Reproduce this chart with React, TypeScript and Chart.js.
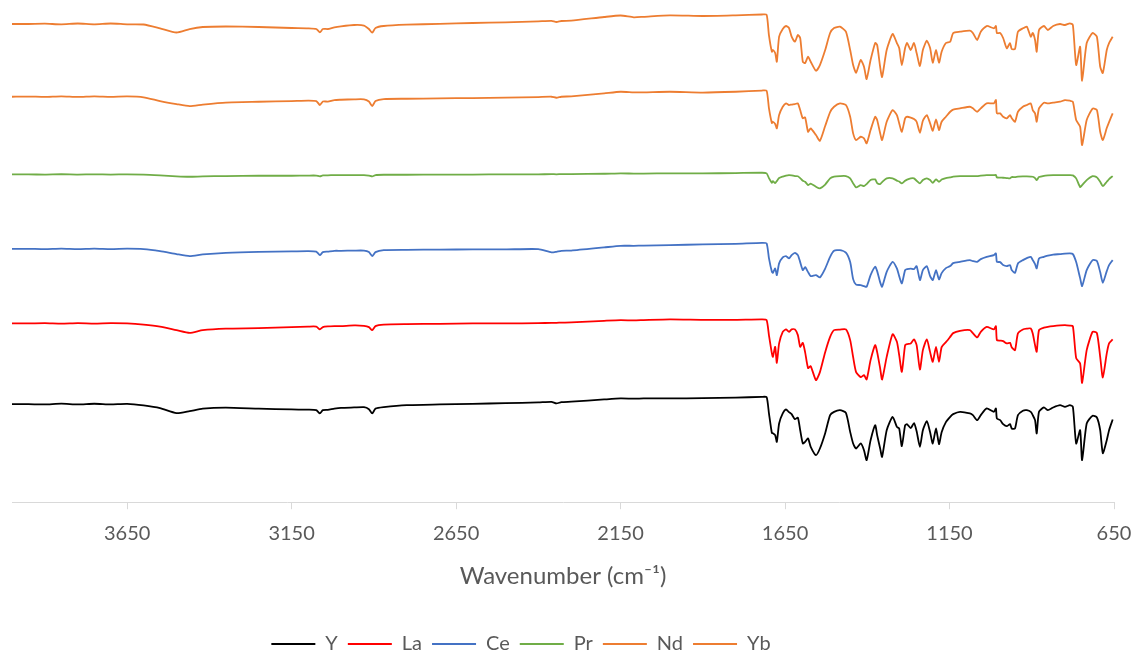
import { useEffect, useRef } from 'react';
import { Chart, registerables } from 'chart.js';

Chart.register(...registerables);

// Wavenumbers (cm-1), shared by all spectra
const wavenumbers = [
  4000, 3950, 3900, 3850, 3800, 3750, 3700, 3650, 3600, 3550,
  3500, 3460, 3420, 3350, 3250, 3150, 3100, 3075, 3064, 3055,
  3040, 3020, 3000, 2960, 2930, 2915, 2905, 2895, 2870, 2800,
  2700, 2600, 2500, 2400, 2360, 2345, 2330, 2300, 2200, 2150,
  2110, 2080, 2000, 1900, 1800, 1720, 1706,
  1699, 1690, 1687, 1680, 1675, 1668, 1657, 1647, 1638, 1630,
  1620, 1611, 1604, 1596, 1589, 1580, 1572, 1556, 1544, 1528,
  1513, 1501, 1483, 1465, 1452, 1443, 1434, 1420, 1410, 1402,
  1390, 1376, 1370, 1361, 1355, 1341, 1323, 1310, 1303, 1295,
  1285, 1279, 1268, 1258, 1250, 1240, 1231, 1219, 1209, 1201,
  1191, 1182, 1174, 1161, 1148, 1139, 1118, 1088, 1079, 1066,
  1055, 1037, 1015, 1009, 1006, 996, 987, 976, 966, 961,
  951, 942, 927, 915, 903, 897, 890, 885, 878, 863,
  851, 835, 814, 799, 784, 775, 765, 753, 747, 733,
  715, 702, 692, 684, 672, 665, 654,
];

// Offset transmittance (arbitrary units)
const seriesY = [
  98, 98, 97.7, 98.5, 97.7, 98.4, 97.8, 98.3, 96.7, 94,
  89, 91, 93.5, 94.5, 93.5, 92.7, 92.5, 92, 88.7, 92,
  92.3, 93.5, 94.3, 94.7, 95, 93, 88.7, 93.5, 95, 97,
  97.7, 98.3, 99, 99.7, 100.3, 98.7, 100, 100.5, 102.7, 103.7,
  103.5, 103.7, 103.7, 104, 104.5, 105.3, 105,
  89, 69, 69, 67, 60.3, 78.7, 88.7, 92.7, 90, 88,
  83, 84.5, 72, 58.7, 60.3, 63.7, 55.3, 47, 53.7, 69,
  87, 90.3, 92, 89.3, 70.3, 58.7, 53.7, 58.7, 52, 42,
  62, 77, 67, 54, 45.3, 72, 85.3, 75.3, 73.7, 56,
  77, 78, 74, 79, 71, 55.3, 72, 81, 70, 58.7,
  73.7, 58, 70, 80, 85.3, 88, 90.3, 88.7, 87, 82,
  87, 93.7, 90.3, 93.7, 83.7, 82, 78, 76, 78, 73.7,
  73.7, 87, 91.5, 92, 90.3, 87, 82, 68.7, 90.3, 94.7,
  92, 94.7, 97, 95.3, 97, 95.3, 58.7, 72, 42, 78.7,
  86.5, 84.7, 72, 49, 62, 72, 82.7,
];

const seriesLa = [
  178.7, 178.7, 179, 178.5, 179, 178.6, 179, 178.7, 177.5, 175.5,
  172, 169.3, 172, 173.5, 174, 175, 175.5, 175.5, 172.7, 175,
  175.7, 176, 176, 176.7, 176.3, 175, 172, 176, 177.5, 178,
  178.3, 178.7, 178.7, 179, 179.3, 179.3, 179.5, 179.7, 181.3, 182,
  181.7, 182, 182.7, 182.3, 182.3, 182.7, 182,
  167, 148.7, 145.3, 155.3, 139.3, 158.7, 170.3, 172.7, 170.3, 172.7,
  172.7, 167, 155.3, 159.3, 150, 134, 136, 122, 130, 150,
  165.3, 172, 172.5, 172.7, 162, 145, 130, 125, 127, 122.7,
  142, 157, 150, 134, 122.7, 145.3, 168, 160.3, 147, 130.3,
  157, 158, 158.7, 162.7, 157, 132.7, 152, 162.7, 150, 140.3,
  155.3, 140.3, 155, 160, 165.3, 169, 171.3, 172, 169, 164.7,
  170.3, 175.3, 172.7, 176, 162, 161.5, 161, 158.7, 159.3, 155,
  152, 168.7, 172.7, 173.5, 173.7, 168.7, 157, 150.3, 172, 174.5,
  175.3, 176, 176.7, 177, 176.5, 176, 144, 138.7, 119.3, 152,
  170.3, 169, 145.3, 124.7, 148.7, 158.7, 162.7,
];

const seriesCe = [
  253.3, 253.3, 253, 253.5, 253, 253.5, 253, 253.4, 253, 251,
  248, 246, 247.7, 249.3, 250.3, 250.7, 251, 250.5, 247, 250,
  250.5, 251.3, 251.3, 251.5, 251.5, 250, 246, 250, 252, 252.3,
  252.5, 252.7, 252.7, 253, 249.7, 250.3, 251.3, 251.5, 254.7, 256.3,
  256.3, 256.5, 257, 257.7, 258.3, 259.3, 258.7,
  244, 230.3, 229.3, 233.7, 227, 238.7, 244.7, 246, 243.7, 247,
  249.3, 247, 240, 232, 235, 230, 226, 227, 224.7, 233.5,
  245.3, 251.3, 252, 249.5, 240, 223, 217.5, 217, 216, 215.3,
  227, 235.3, 231, 220, 215.3, 230.3, 240.3, 233.7, 226, 218.7,
  232, 233, 233.5, 233, 236, 222, 232, 236, 226, 222,
  232, 222.7, 229, 234, 236, 239, 240.3, 242, 241, 240.3,
  243, 245.3, 247, 248.7, 240.3, 240, 237, 236, 237, 232,
  229.3, 238.7, 242, 244, 245.3, 242, 238, 233.7, 243.7, 245.3,
  246.5, 247.5, 248, 248.5, 248.7, 248, 240, 224, 216, 232,
  242, 241, 230, 219.3, 231, 237, 242,
];

const seriesPr = [
  327.7, 327.7, 327.5, 327.8, 327.5, 327.7, 327.5, 327.7, 327.5, 326.7,
  325.7, 325.3, 325.7, 326, 326.3, 326.3, 326.5, 326.5, 325.7, 326.7,
  326.7, 327, 327, 327, 327, 326.5, 325.7, 327, 327.3, 327.3,
  327.5, 327.5, 327.7, 327.7, 328, 327.7, 328, 328, 328.3, 328.7,
  328.5, 328.5, 328.7, 328.7, 329, 329.3, 328.7,
  324, 319.3, 321, 319, 321, 324, 325.5, 326.5, 327, 326.7,
  326, 325.8, 324, 321.3, 320.3, 317, 318.5, 315.3, 313.7, 317.5,
  323.7, 325.5, 326, 326, 323.7, 318.7, 314.7, 317, 316, 318,
  322, 322.7, 319, 318, 320, 323.7, 323.7, 321.5, 320.5, 318.7,
  321.3, 322.5, 323.7, 323.7, 321.3, 318.7, 322, 323.7, 322, 319.3,
  322.7, 320.3, 322.5, 324, 324.7, 325.5, 326, 326, 326, 326,
  326.5, 327, 327, 327, 324.7, 324.5, 324.3, 324, 323.7, 325,
  325, 325.5, 325.7, 325.7, 325.5, 325.3, 324, 322, 325, 326.3,
  326.7, 327, 327, 327, 327, 326.7, 323.7, 315, 317, 322,
  326, 324.7, 320.3, 316, 320.3, 323, 326,
];

const seriesNd = [
  405.3, 405.5, 405.1, 405.7, 405.1, 405.7, 405.2, 405.6, 404.7, 401,
  398, 396, 397.5, 399.5, 400.3, 401, 401.5, 401, 397, 400.5,
  400.5, 402, 402.3, 402.7, 402.7, 400.5, 396, 401, 403, 403.3,
  403.7, 404, 404.5, 405, 405.3, 404.3, 405.3, 405.7, 408.7, 410.3,
  409.7, 409.7, 410.3, 409.5, 410.3, 411.5, 411.3,
  394, 379, 380.3, 378, 373.7, 387, 395.3, 398.7, 397, 397.5,
  398, 398.7, 392, 383.7, 384.7, 370.3, 373.7, 367, 361.3, 376,
  390, 395.3, 398.7, 397, 385.3, 368.7, 362, 365.3, 363.7, 358.7,
  372, 385.3, 382, 369, 362, 380.3, 392, 387, 378.7, 370.3,
  383.7, 385.3, 384.5, 383, 380.3, 369.3, 381.3, 387, 378.7, 371.3,
  382.7, 372, 380.3, 385.3, 390.3, 392.5, 393.7, 395.3, 393.7, 390.3,
  393.7, 398.7, 398.7, 402, 388.7, 388.7, 385.3, 383.7, 387, 384,
  380.3, 390.3, 395.3, 397, 398.7, 392, 388.7, 380.3, 393.7, 399.3,
  398.7, 399.5, 400.3, 402, 401.3, 400.3, 382, 375.3, 357, 382,
  393.5, 392, 370.3, 362, 374, 380, 388.7,
];

const seriesYb = [
  478, 478, 478.3, 477.7, 478.5, 477.7, 478.5, 477.7, 477.5, 473.7,
  469.5, 473, 475, 475.5, 475, 474, 473.7, 473, 469.7, 473,
  473, 474.7, 475.7, 477, 476.5, 473, 469.3, 474, 476, 477.3,
  478.2, 479, 479.7, 480.7, 481.2, 480, 481, 481.3, 485, 486.5,
  484.7, 485.2, 486.7, 486, 486.7, 487.5, 487.3,
  467, 450.3, 452, 449, 440.3, 465.3, 473, 476, 474, 465.3,
  460.3, 467, 464, 440.3, 439, 445.3, 440.3, 431.3, 437, 452,
  469, 474, 475.3, 470.3, 452, 437, 429.3, 442, 435.3, 423,
  442, 459, 457, 435.3, 425, 452, 468, 459, 454, 437,
  454, 459, 452, 459, 449, 436, 452, 461.3, 454, 439.3,
  452, 439.3, 450.3, 459, 460.3, 469, 470.3, 471.3, 469, 462,
  470.3, 476, 473.7, 476, 469, 469, 464, 453.7, 459, 453,
  453, 470.3, 473.7, 475.3, 465.3, 469, 462, 450.3, 472, 476,
  472, 476, 478, 477, 478.7, 477, 437, 455.3, 421.3, 459,
  469, 465.3, 435.3, 429, 452, 459, 465.3,
];

const seriesNames = ['Y', 'La', 'Ce', 'Pr', 'Nd', 'Yb'];
const seriesColors = ['#000000', '#FF0000', '#4472C4', '#70AD47', '#ED7D31', '#ED7D31'];
const tickValues = [3650, 3150, 2650, 2150, 1650, 1150, 650];

// Shift the legend block sideways (the source legend sits left of centre)
const legendShift = {
  id: 'legendShift',
  afterLayout(chart: any) {
    const lg = chart.legend;
    if (lg) {
      lg.left -= 42;
      lg.right -= 42;
    }
  },
};

export default function App() {
  const ref = useRef<HTMLCanvasElement>(null);

  useEffect(() => {
    const values = [seriesY, seriesLa, seriesCe, seriesPr, seriesNd, seriesYb];
    const chart = new Chart(ref.current as HTMLCanvasElement, {
      type: 'line',
      data: {
        datasets: seriesNames.map((name, k) => ({
          label: name,
          data: wavenumbers.map((w, i) => ({ x: w, y: values[k][i] })),
          borderColor: seriesColors[k],
          backgroundColor: seriesColors[k],
          borderWidth: 1.8,
          pointRadius: 0,
          tension: 0.2,
          fill: false,
        })),
      },
      plugins: [legendShift],
      options: {
        animation: false,
        responsive: true,
        maintainAspectRatio: false,
        layout: { padding: { left: 12, right: 23, top: 2, bottom: 1 } },
        plugins: {
          legend: {
            position: 'bottom',
            labels: {
              usePointStyle: true,
              pointStyle: 'line',
              pointStyleWidth: 44,
              font: { family: 'Lato', size: 20 },
              color: '#595959',
              padding: 10,
            },
          },
          tooltip: { enabled: false },
        },
        scales: {
          x: {
            type: 'linear',
            reverse: true,
            min: 650,
            max: 4000,
            afterBuildTicks: (s: any) => {
              s.ticks = tickValues.map((v) => ({ value: v }));
            },
            ticks: {
              font: { family: 'Lato', size: 20, lineHeight: 2.4 },
              color: '#595959',
              padding: 0,
              maxRotation: 0,
              autoSkip: false,
              callback: (v: any) => String(v),
            },
            grid: { drawOnChartArea: false, drawTicks: true, tickLength: 7, color: '#D9D9D9' },
            border: { display: true, color: '#D9D9D9' },
            title: {
              display: true,
              text: 'Wavenumber (cm⁻¹)',
              font: { family: 'Lato', size: 24 },
              color: '#595959',
              padding: { top: 5, bottom: 33 },
            },
          },
          y: { display: false, min: 0, max: 500 },
        },
      },
    });
    return () => chart.destroy();
  }, []);

  return (
    <div style={{ position: 'fixed', left: 0, top: 0, width: 1137, height: 655, overflow: 'hidden', background: '#fff' }}>
      <div style={{ position: 'absolute', left: 0, top: 0, width: 1137, height: 665 }}>
        <canvas ref={ref} />
      </div>
    </div>
  );
}
